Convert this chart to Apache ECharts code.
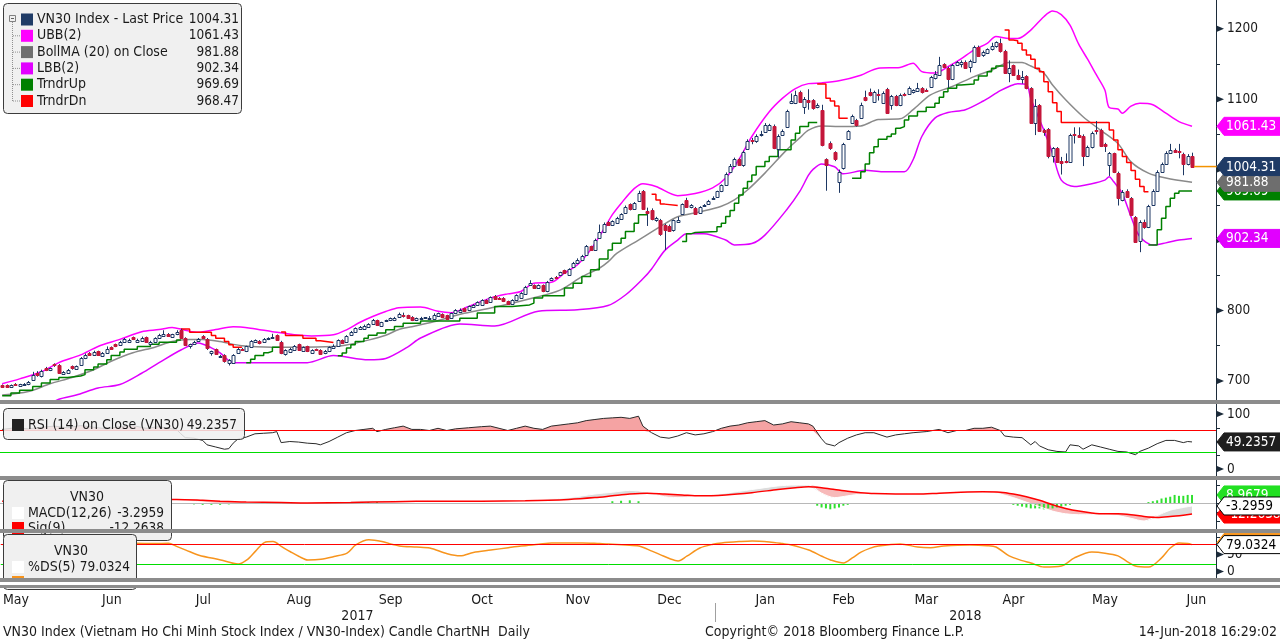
<!DOCTYPE html>
<html><head><meta charset="utf-8">
<script src="https://cdn.jsdelivr.net/npm/echarts@6/dist/echarts.min.js"></script>
<style>html,body{margin:0;padding:0;background:#fff;}#c{width:1280px;height:641px;}</style>
</head><body><div id="c"></div>
<script>
// ---------------- DATA ----------------
const holidays = ['2017-09-01','2017-09-04','2018-01-01','2018-02-14','2018-02-15','2018-02-16','2018-02-19','2018-02-20','2018-04-25','2018-04-30','2018-05-01'];
const firstDate = '2017-05-12';
const monthNames = ['Jan','Feb','Mar','Apr','May','Jun','Jul','Aug','Sep','Oct','Nov','Dec'];

const opens = [694,694,691,696,693,694,695,702,712,707,719,715,724,723,710,712,721,717,723,733,740,737,742,735,740,748,752,751,756,756,762,755,757,762,753,756,761,764,767,763,766,773,761,749,753,757,764,760,739,745,734,737,726,726,740,746,742,748,755,757,755,759,762,765,756,738,741,744,752,743,749,740,745,744,740,742,747,750,758,756,765,770,774,774,777,781,786,778,785,786,786,791,794,793,791,786,789,790.5,789.5,788,792,795,793,789,797,798,803,801,805,808,808,815,812,820,818,818,813,809,815,818,823,836,836,832,836,827,844,847.5,851,857,851,862,867,871,879,891,886,903,912,926,921,924,930,938,951,944,956,969,941.5,943,928,928,921,920,914,926,937,957,947,946,939,948,951,958,961,969,978,996,1005,1015,1006,1029,1042,1040,1050,1053,1056,1062,1029,1049,1061,1094,1094,1110,1088.5,1099,1099,1089,1084,1015,1038,1025,983,1002,1044,1066,1070,1073,1103,1110.6,1096.5,1108,1095,1114.5,1092,1104.5,1092,1107.6,1107.5,1110,1112,1115.5,1113.5,1117.7,1129.6,1134.3,1149.5,1144.7,1128.7,1149,1149.5,1153,1145,1153,1174.5,1162,1165,1170.8,1175,1179,1168.8,1137.6,1148.5,1134.3,1129,1132.6,1115.5,1065.8,1091.8,1056,1057,1018.6,1030.3,1012,1012,1011.3,1050,1049,1047.8,1019.6,1032,1056,1056,1036,1006.7,1023,995.7,957,970,959.4,932.5,898,926.2,918.3,950,970,997,1008,1024,1028,1027,1022,1008,1019.6];
const highs = [695,695,695,697,696,697,700,713,714,716,720,719,725,724,714,717,722,722,734,739,741,743,743,741,749,749,753,757,761,760,763,760,763,763,757,762,767,772,768,767,772,774,762,753,757,761,765,761,743,746,737,738,731,738,747,747,750,758,759,758,761,762,767,766,757,745,747,751,753,749,750,745,746,745,744,749,752,759,759,765,771,776,778,780,782,788,787,784,787,790,791,797,797,794,792,790,791,790.5,792,796,797,796,794,797,802,803,804,807,809,813,816,816,820,822,819,819,814,816,823,826,835,843,837,837,837,842,847,849,855,858,860,869,874,879,893,892,902,922,925,927,928,933,938,949,952,954,970,971,946,945,933,930,923,922,929,933,952,960,951,947,948,951,957,962,970,979,996,1008,1017,1016,1027,1043,1045,1050,1055,1066,1065,1064,1050,1057,1085,1108,1112,1112,1103,1114,1100,1094,1092,1016,1040,1026,1000,1038,1056,1078,1072,1095,1112,1115,1112,1114,1111,1116,1106,1106,1108,1109,1118,1114,1123,1117,1115,1133,1140,1160,1151,1146,1150,1154,1155,1155,1156,1176,1176,1169,1172,1180,1182,1186,1170,1155,1149,1142,1140,1134,1117,1100,1093,1058,1059,1032,1032,1018,1023,1051,1060,1060,1050,1034,1054,1069,1058,1038,1025,1024,997,971,972,961,934,928,929,950,972,999,1010,1026,1036.5,1030,1036.5,1024,1022,1024];
const lows = [690,691,690,693,692,693,694,700,706,705,714,714,720,710,709,711,716,716,722,731,736,736,736,734,739,745,748,750,755,755,758,754,756,754,751,755,760,763,763,762,765,760,750,746,752,756,760,744,736,737,733,726,722,725,739,743,741,747,754,752,754,758,761,757,738,736,740,743,743,742,741,739,743,737,738,741,746,749,753,755,764,769,773,773,776,780,778,777,784,785,785,790,790,789,785,785,788,788,789.5,787,791,790,787,788,796,797,799,800,804,807,807,810,811,815,816,812,808,808,814,817,822,835,831,831,826,826,843,845,850,852,850,861,866,870,878,885,885,902,911,920,920,923,929,937,942,943,955,943,920,928,926,906,886,912,912,925,936,946,945,936,938,947,950,957,960,968,977,995,1004,1006,1004,1028,1036,1038,1047,1052,1055,1029,1017,1048,1060,1093,1093,1095,1079,1085,1085,1087,1033,970,1028,1012,967,1000,1043,1065,1061,1072,1097,1104,1095,1098,1094,1080,1085,1090,1090,1104,1106,1108,1111,1108,1111,1116,1128,1133,1144,1116,1127,1147,1145,1143,1138,1152,1160,1160,1164,1169,1173,1166,1136,1124,1133,1127,1122,1114,1065,1049,1054,1048,1016,1010,1010,993,1009,1010,1037,1045,1005,1018,1030,1050,1032,1025,991,995,949,955,960,934,896,882.8,916,917,949,969,996,1007,1023,1024,1016,992,1006,1003];
const closes = [692,692,694,694,695,696,699,709,708,714,716,718,722,711,713,716,718,721,733,737,737,741,737,739,746,746,750,756,759,758.5,760,758,761,755,756,761,765,767,764,766,770,761,751,752,756,760,761,747,742,738,736,728,730,737,745,744,749,757,758,754,760,761,763,758,740,744,746,750,744,748,742,744,744,738,743,748,750,758,754,764,770,775,777,778,781,786,779,783,786,789,789,795,792,790,786,789,789.5,790.5,789.5,794,796,791,788,796,801,801,800,806,808,812,815,811,819,816,817.5,813,809.5,815,822,825,834,839,832,836,827,840,846,846.5,854,853,859,868,872,878,891,886,900,912,923,922,927,932,937,947.5,944,953,967,944,939,930,931,908,914.5,913.5,928,929,951,947.5,950,937,947.5,950,956,960,969,978,994,1005,1015,1007,1025,1041,1040,1048,1051,1063,1063,1030,1048,1055,1083,1097.5,1106,1096.5,1100,1096.5,1087,1092,1035,1007,1031,1015,997,1036.5,1055,1076,1063,1092,1099,1106,1110.6,1107,1109,1081,1104.5,1092,1106,1106.5,1115.5,1113,1115.5,1110,1112.5,1131,1135.7,1148.5,1146,1128.7,1148.5,1152,1153,1144.7,1154.6,1174.5,1161.7,1167.4,1170.8,1176,1180.7,1168.8,1137.6,1143.8,1134.3,1128.7,1131,1115.5,1066.7,1090.4,1055.3,1054,1018.6,1030.3,1011.3,1010,1011.3,1049.2,1049,1046.8,1019.6,1032.6,1052.6,1055,1033.6,1034,1023,997,959.4,968.8,961.7,935.7,897.9,926.2,918.3,948.5,970,997,1008,1024,1028,1025.5,1026,1008,1019.6,1004.31];

// Bollinger bands: [day index, value]
const ubb = [[0,696],[4,703],[9,713],[13,726],[18,737],[22,749],[27,759],[32,770],[36,773],[39,776],[42,772],[45,769],[49,773],[53,777],[57,775],[62,770],[67,765.5],[71,764],[76,765.5],[79,772.6],[82,783],[85,791.5],[88,798.6],[91,804],[96,805],[100,799],[103,797],[107,805.7],[112,817.6],[116,823.6],[119,827],[122,838.8],[126,840],[129,853],[132,865],[135,886],[138,915],[140,936],[142,952],[145,973],[147,980],[150,976],[155,963],[159,966],[163,974],[166,988],[169,1014],[172,1047],[176,1082],[179,1101],[182,1115],[185,1122],[188,1123],[192,1126],[197,1134],[201,1144],[206,1145],[209,1151],[211,1139],[214,1137],[217,1146],[220,1157],[223,1170],[226,1179],[228,1189],[231,1186],[233,1186],[236,1198],[239,1217],[241,1225],[243,1220],[245,1205],[247,1178],[249,1157],[251,1135],[253,1113],[254,1088],[256,1086],[257,1080],[259,1090],[261,1094],[264,1092],[267,1080],[270,1068],[273,1061.43]];
const bollMA = [[0,680],[6,685],[11,696],[16,705],[21,716],[25,728],[30,740],[35,748],[39,756],[43,759],[46,759],[50,756],[55,750],[62,748],[68,748],[76,749],[79,751],[84,758],[88,765],[91,773],[94,777],[99,784],[106,796],[114,806],[122,818],[128,829],[133,848],[137,860],[139,869],[141,881],[146,900],[151,919],[155,933],[160,940],[165,948],[168,957],[171,971],[175,995],[180,1028],[183,1045],[185,1056],[188,1062],[192,1061],[197,1062],[201,1071],[206,1072],[209,1085],[213,1106],[218,1118],[223,1132],[227,1141],[231,1152],[234,1152],[236,1147],[239,1137],[241,1120],[244,1099],[248,1075],[252,1056],[256,1037],[259,1011],[263,995],[267,988],[273,981.88]];
const lbb = [[0,640],[6,652],[10,664],[13,674],[17,680],[22,690],[27,695],[32,711],[36,726],[41,744],[45,754],[48,747],[50,740],[53,726],[60,726],[70,726],[76,736],[84,730],[88,732],[93,748],[96,761],[105,781],[113,778],[123,799],[132,801],[139,807],[143,822],[147,845],[149,859],[152,885],[155,900],[157,909],[161,909],[166,900],[168,893],[172,895],[175,907],[180,943],[183,969],[185,992],[186,1000],[188,1008],[191,1004],[193,994],[198,999],[202,997],[207,997],[209,1014],[211,1047],[214,1073],[217,1081],[221,1085],[225,1097],[229,1112],[231,1118],[233,1122],[235,1121],[236,1101],[239,1056],[241,1023],[243,985],[246,976],[250,980],[253,985],[254,990],[255,983],[257,966],[259,933],[261,905],[264,893],[267,896],[270,900],[273,902.34]];

// Trend stops (step lines), one list per visible stretch
const trendUpSegs = [
  [[0,679],[2,683],[4,687],[7,692],[9,697],[11,702],[13,705],[15,707],[18,709],[19,716],[21,720],[22,724],[24,730],[25,736],[27,741],[28,745],[31,749],[34,752],[36,755],[40,758],[41,758]],
  [[56,726],[57,731],[58,736],[60,740],[61,742],[62,748],[64,748]],
  [[77,735.7],[78,739.6],[79,746.7],[80,751.4],[81,756],[83,760.8],[84,765],[86,768],[88,772.6],[90,777.3],[92,782],[96,785],[105,789],[109,796.3],[113,805.7],[117,808],[121,810.5],[122,817.6],[124,820.8],[129,831.8],[131,838.8],[133,848.2],[135,857.7],[137,873],[139,886],[140,895.5],[142,902.6],[143,912],[145,924],[146,935.8],[148,935.8]],
  [[156,898],[157,908.8],[158,910.6],[159,912],[164,919],[165,924],[166,933.3],[167,941.8],[168,952.3],[169,964],[170,973.6],[171,983],[172,992.5],[173,1004.3],[175,1011.4],[176,1018.6],[178,1028],[181,1042],[182,1051.6],[183,1061],[185,1066.7],[187,1066.7]],
  [[195,987.8],[197,997],[198,1008],[199,1024],[200,1032.6],[201,1043],[203,1046.8],[204,1050.6],[205,1058.7],[206,1061],[207,1070.5],[208,1076],[210,1082.3],[212,1088.5],[214,1094],[215,1102.7],[216,1110.6],[217,1115.5],[219,1120],[220,1121.6],[223,1127.2],[224,1133],[226,1139],[227,1143.8],[228,1147],[230,1150.9]],
  [[263,893],[265,914.5],[266,931],[267,947.5],[268,959.4],[269,966.5],[270,969.69],[273,969.69]]
];
const trendDnSegs = [
  [[41,773.6],[43,769],[48,764.6],[49,760.8],[51,756],[52,751.4],[53,748],[55,748]],
  [[64,769.4],[65,764.6],[69,760.8],[72,757],[73,754.6],[76,754.6]],
  [[149,965],[150,957],[151,951],[152,949],[155,949]],
  [[187,1121.6],[189,1101.3],[190,1097.5],[191,1090.4],[192,1073],[194,1073]],
  [[230,1198],[231,1184],[232,1183],[233,1179.3],[234,1169.8],[235,1162.7],[236,1156.6],[237,1143.8],[238,1139],[239,1124.8],[240,1110.6],[241,1095],[242,1082.3],[243,1066.7],[254,1056.3],[255,1042],[256,1028],[257,1018.6],[258,1010],[259,998.6],[260,986.4],[261,976],[262,968.47],[263,968.47]]
];

// RSI(14)
const rsi = [[0,72],[3,75],[6,73],[9,76],[12,78],[15,75],[18,79],[21,76],[24,73],[27,77],[30,79],[33,74],[36,77],[38,74],[40,72],[41,64],[42,57],[44,56],[46,52],[47,44],[49,40],[51,36],[52,37],[53,47],[54,54],[56,58],[58,64],[60,65],[62,66],[63,68],[64,48],[66,50],[68,49],[70,47],[72,46],[73,44],[75,50],[77,58],[79,66],[81,70],[83,72],[85,74],[86,68],[88,72],[90,75],[92,78],[94,72],[96,72],[98,70],[100,74],[102,70],[104,73],[107,75],[110,77],[112,78],[114,74],[116,70],[118,74],[120,78],[122,74],[124,72],[126,78],[128,80],[130,82],[132,84],[134,88],[136,90],[138,92],[140,93],[142,94],[144,92],[146,96],[147,78],[149,66],[151,58],[153,56],[155,60],[157,66],[159,62],[161,64],[163,68],[165,74],[167,78],[169,80],[171,84],[173,86],[175,88],[177,80],[179,82],[181,86],[183,84],[185,82],[186,78],[188,55],[189,46],[191,42],[192,48],[194,56],[196,62],[198,66],[200,66],[203,58],[205,62],[207,64],[209,66],[212,68],[215,72],[217,66],[219,70],[221,70],[223,74],[225,74],[227,76],[229,70],[230,60],[232,58],[234,57],[236,44],[237,50],[238,42],[240,35],[242,32],[244,31],[245,44],[247,42],[248,36],[250,44],[252,40],[254,36],[256,32],[258,31],[260,26],[261,32],[263,38],[265,46],[267,52],[269,52],[271,48],[272,50],[273,49.2357]];

// MACD(12,26) and Sig(9)
const macdIdx = [0,10,20,30,40,46,50,56,64,70,80,90,100,110,120,130,136,140,144,148,152,156,160,166,172,178,182,185,188,191,194,197,200,205,210,215,220,225,229,232,235,238,241,244,247,250,253,256,259,262,265,268,271,273];
const macdLine = [3,3.5,4,4,3.5,1,-0.5,0,1,-0.5,2,3,2.5,2,3,6,10,12,14,12,7,6,8,11,15,19,20,20,11,6,8,10,11,10,11,12,13,13,10,6,1,-4,-9,-12,-13,-13,-13,-14,-17,-20,-14,-8,-5,-3.2959];
const sigLine = [2,2.5,3,3.5,4,3,2,1,0.5,0,0.5,1.5,2,2,2.5,4,6,8,10,11,10,9,8,9,11.5,15,17,18,17,15,13,11.5,10.5,10,10,11,12,12.5,12,10,7,3,-2,-6,-9,-11,-12,-12,-13,-15,-16,-15,-13.5,-12.2638];
const macdHist = [[42,-1],[44,-1.5],[46,-2],[48,-2],[50,-2],[52,-1.5],[54,-1],[82,1],[84,1],[86,1],[140,2],[142,2.5],[144,3],[146,2],[186,-1],[187,-3],[188,-5],[189,-6],[190,-7],[191,-6],[192,-5],[193,-3],[194,-2],[195,-1],[231,-1],[232,-2],[233,-3],[234,-4],[235,-5],[236,-6],[237,-6],[238,-6],[239,-7],[240,-6],[241,-6],[242,-5],[243,-4],[244,-3],[245,-2],[263,1],[264,2],[265,3],[266,5],[267,6],[268,7],[269,9],[270,8],[271,8],[272,9],[273,8.9679]];

// %DS(5)
const dsLine = [[0,76],[5,78],[10,80],[15,79],[20,82],[25,80],[30,83],[35,82],[38,83],[40,73],[42,63],[45,48],[50,34],[54,22],[56,34],[58,60],[60,85],[62,88],[64,73],[66,58],[68,44],[70,34],[73,36],[76,44],[79,54],[81,78],[84,93],[87,88],[91,75],[95,72],[98,69],[102,52],[105,46],[108,56],[112,63],[116,70],[119,75],[123,80],[126,84],[130,84],[133,84],[137,82],[139,81],[143,78],[146,75],[149,60],[151,49],[153,38],[155,31],[157,45],[160,69],[163,80],[165,84],[169,88],[172,90],[176,87],[179,82],[181,78],[185,63],[188,45],[190,34],[193,25],[195,40],[197,57],[199,68],[201,75],[206,81],[210,72],[213,70],[216,75],[222,78],[226,76],[228,72],[231,46],[234,32],[236,25],[239,13],[243,16],[246,40],[250,57],[253,54],[256,46],[258,30],[260,16],[263,13],[266,40],[268,69],[270,84],[272,82],[273,79.0324]];

const priceTicks = [700,800,900,1000,1100,1200];

// ---------------- BUILD ----------------
const FONT = '"DejaVu Sans Condensed","Liberation Sans Narrow","Liberation Sans",sans-serif';
const TXT = '#1a1a1a', NAVY = '#1d3763', CRIMSON = '#c4173b', AXIS = '#1c2b3a';
const N_CAT = 279;
const NUM = 13;

function ymd(d){return d.getFullYear()+'-'+String(d.getMonth()+1).padStart(2,'0')+'-'+String(d.getDate()).padStart(2,'0');}
const hol = new Set(holidays);
const fullCal = [];
for (let d = new Date(2017,4,3); d <= new Date(2018,5,29); d.setDate(d.getDate()+1)) {
  const wd = d.getDay(); const s = ymd(d);
  if (wd !== 0 && wd !== 6 && !hol.has(s)) fullCal.push(s);
}
const off = fullCal.indexOf(firstDate);
const dates = fullCal.slice(off, off + N_CAT);
const mFirst = {}, mLast = {};
fullCal.forEach((s, k) => { const m = s.slice(0,7); const i = k - off; if (!(m in mFirst)) mFirst[m] = i; mLast[m] = i; });
const labelIdx = new Set();
Object.keys(mFirst).forEach(m => { const c = Math.round((mFirst[m] + mLast[m]) / 2); if (c >= 0 && c < N_CAT) labelIdx.add(c); });

const candleData = closes.map((c, i) => [i, opens[i], c, lows[i], highs[i]]);

function renderCandle(params, api) {
  const i = api.value(0), o = api.value(1), c = api.value(2), l = api.value(3), h = api.value(4);
  const pO = api.coord([i, o]), pC = api.coord([i, c]), pL = api.coord([i, l]), pH = api.coord([i, h]);
  const x = Math.round(pO[0]) + 0.5;
  const up = c >= o;
  const top = Math.round(Math.min(pO[1], pC[1])) + 0.5, bot = Math.round(Math.max(pO[1], pC[1])) + 0.5;
  return { type: 'group', children: [
    { type: 'line', shape: { x1: x, y1: pH[1], x2: x, y2: pL[1] }, style: { stroke: NAVY, lineWidth: 1 } },
    { type: 'rect', shape: { x: x - 1.5, y: top, width: 3, height: Math.max(1, bot - top) },
      style: up ? { fill: '#fff', stroke: NAVY, lineWidth: 1 } : { fill: CRIMSON, stroke: CRIMSON, lineWidth: 1 } }
  ]};
}

const grids = [
  { left: 0, top: 0, width: 1216, height: 400 },
  { left: 0, top: 404, width: 1216, height: 72 },
  { left: 0, top: 480, width: 1216, height: 49 },
  { left: 0, top: 533, width: 1216, height: 45 }
];
const xAxes = grids.map((g, k) => ({
  type: 'category', gridIndex: k, data: dates, boundaryGap: true,
  axisLine: { show: false }, axisTick: { show: false },
  axisLabel: k === 3 ? {
    show: true, margin: 15, color: TXT, fontSize: 14, fontFamily: FONT,
    interval: (idx) => labelIdx.has(idx),
    formatter: (v) => monthNames[parseInt(v.slice(5,7), 10) - 1]
  } : { show: false },
  splitLine: { show: false }
}));
function yAx(k, min, max, tickVals, labelVals) {
  return { type: 'value', gridIndex: k, position: 'right', min, max, scale: true,
    axisLine: { show: true, lineStyle: { color: AXIS, width: 1 } },
    axisTick: { show: true, length: 4, lineStyle: { color: AXIS }, customValues: tickVals },
    axisLabel: { show: labelVals.length > 0, margin: 11, color: TXT, fontSize: 13.5, fontFamily: FONT, customValues: labelVals,
      formatter: (v) => String(v) },
    splitLine: { show: false } };
}
const yAxes = [
  yAx(0, 673, 1240.7, [700,750,800,850,900,950,1000,1050,1100,1150,1200], priceTicks),
  yAx(1, -12.7, 118.2, [0,25,50,75,100], [0,50,100]),
  yAx(2, -28.9, 25.6, [-20,-10,0,10,20], []),
  yAx(3, -19.1, 113.2, [0,50,100], [0,50])
];

const noSym = { showSymbol: false, symbol: 'none', silent: true };
const series = [];
function line(k, data, color, width, extra) {
  series.push(Object.assign({ type: 'line', xAxisIndex: k, yAxisIndex: k, data, lineStyle: { color, width }, itemStyle: { color } }, noSym, extra || {}));
}
// main panel
line(0, ubb, '#ff00ff', 1.5, { smooth: 0.3 });
line(0, lbb, '#e000ff', 1.5, { smooth: 0.3 });
line(0, bollMA, '#8a8a8a', 1.5, { smooth: 0.3 });
trendUpSegs.forEach(s => line(0, s, '#008000', 1.5, { step: 'end' }));
trendDnSegs.forEach(s => line(0, s, '#ff0000', 1.5, { step: 'end' }));
series.push({ type: 'custom', xAxisIndex: 0, yAxisIndex: 0, data: candleData, renderItem: renderCandle,
  encode: { x: 0, y: [1,2,3,4] }, clip: true, silent: true, z: 5 });

// RSI panel
const rsiHiBase = rsi.map(p => [p[0], Math.min(p[1], 70)]);
const rsiHiEx = rsi.map(p => [p[0], Math.max(p[1] - 70, 0)]);
const rsiLoBase = rsi.map(p => [p[0], Math.min(p[1], 30)]);
const rsiLoEx = rsi.map(p => [p[0], 30 - Math.min(p[1], 30)]);
line(1, rsiHiBase, 'rgba(0,0,0,0)', 0, { stack: 'hi' });
line(1, rsiHiEx, 'rgba(0,0,0,0)', 0, { stack: 'hi', areaStyle: { color: '#f5a3a3', opacity: 1 } });
line(1, rsiLoBase, 'rgba(0,0,0,0)', 0, { stack: 'lo' });
line(1, rsiLoEx, 'rgba(0,0,0,0)', 0, { stack: 'lo', areaStyle: { color: '#b8f0b8', opacity: 1 } });
line(1, rsi, '#2a2a2a', 1, { z: 4, markLine: { silent: true, symbol: 'none', label: { show: false },
  data: [{ yAxis: 70, lineStyle: { color: '#ff0000', width: 1, type: 'solid' } }, { yAxis: 30, lineStyle: { color: '#00dd00', width: 1, type: 'solid' } }] } });

// MACD panel
const mBase = macdIdx.map((x, j) => [x, Math.min(macdLine[j], sigLine[j])]);
const mPos = macdIdx.map((x, j) => [x, Math.max(macdLine[j] - sigLine[j], 0)]);
const mNeg = macdIdx.map((x, j) => [x, Math.max(sigLine[j] - macdLine[j], 0)]);
line(2, mBase, 'rgba(0,0,0,0)', 0, { stack: 'm', stackStrategy: 'all', smooth: 0.3 });
line(2, mPos, 'rgba(0,0,0,0)', 0, { stack: 'm', stackStrategy: 'all', smooth: 0.3, areaStyle: { color: '#dcdcdc', opacity: 1 } });
line(2, mNeg, 'rgba(0,0,0,0)', 0, { stack: 'm', stackStrategy: 'all', smooth: 0.3, areaStyle: { color: '#f7b9b9', opacity: 1 } });
series.push({ type: 'bar', xAxisIndex: 2, yAxisIndex: 2, data: macdHist, barWidth: 2, itemStyle: { color: '#2fe02f' }, silent: true, z: 3 });
line(2, macdIdx.map((x, j) => [x, macdLine[j]]), '#ffffff', 1, { smooth: 0.3, z: 4 });
line(2, macdIdx.map((x, j) => [x, sigLine[j]]), '#ff0000', 1.5, { smooth: 0.3, z: 5, markLine: { silent: true, symbol: 'none', label: { show: false },
  data: [{ yAxis: 0, lineStyle: { color: '#b8b8b8', width: 1, type: 'solid' } }] } });

// %DS panel
line(3, dsLine, '#f7941d', 1.5, { smooth: 0.3, z: 4, markLine: { silent: true, symbol: 'none', label: { show: false },
  data: [{ yAxis: 80, lineStyle: { color: '#ff0000', width: 1, type: 'solid' } }, { yAxis: 20, lineStyle: { color: '#00dd00', width: 1, type: 'solid' } }] } });

const chart = echarts.init(document.getElementById('c'), null, { renderer: 'canvas', width: 1280, height: 641 });
chart.setOption({ animation: false, backgroundColor: '#ffffff', grid: grids, xAxis: xAxes, yAxis: yAxes, series });

// ---------------- OVERLAYS (legends, tags, separators) ----------------
const g = [];
let zc = 100;
const X = (i) => chart.convertToPixel({ xAxisIndex: 0 }, i);
const Y = (k, v) => chart.convertToPixel({ yAxisIndex: k }, v);
const last = (arr) => arr[arr.length - 1][1];
function txt(x, y, s, opt) {
  g.push({ type: 'text', x, y, z: zc++, silent: true, style: Object.assign({ text: s, fill: TXT, fontSize: 14, fontFamily: FONT, align: 'left', verticalAlign: 'middle' }, opt || {}) });
}
function rect(x, y, w, h, style, r) {
  g.push({ type: 'rect', z: zc++, silent: true, shape: { x, y, width: w, height: h, r: r || 0 }, style });
}
function tag(y, bg, s, fg, stroke) {
  g.push({ type: 'polygon', z: zc++, silent: true, shape: { points: [[1217, y], [1224, y - 9], [1290, y - 9], [1290, y + 9], [1224, y + 9]] }, style: { fill: bg, stroke: stroke || bg, lineWidth: 1 } });
  txt(1226, y + 0.5, s, { fill: fg, fontSize: NUM + 0.5 });
}
function tri(y) {
  g.push({ type: 'polygon', z: zc++, silent: true, shape: { points: [[1217, y - 3], [1224, y], [1217, y + 3]] }, style: { fill: AXIS } });
}
priceTicks.forEach(v => tri(Y(0, v)));
[0, 100].forEach(v => tri(Y(1, v)));
[0, 50].forEach(v => tri(Y(3, v)));

// last price guide line
g.push({ type: 'line', z: zc++, silent: true, shape: { x1: X(closes.length - 1) + 2, y1: Y(0, closes[closes.length - 1]), x2: 1217, y2: Y(0, closes[closes.length - 1]) }, style: { stroke: '#f39200', lineWidth: 1.5 } });

// main legend
rect(3.5, 3.5, 238, 110, { fill: '#f0f0f0', stroke: '#3c3c3c', lineWidth: 1 }, 4);
const legRows = [
  ['VN30 Index - Last Price', closes[closes.length - 1], '#1f3b66'],
  ['UBB(2)', last(ubb), '#ff00ff'],
  ['BollMA (20) on Close', last(bollMA), '#6e6e6e'],
  ['LBB(2)', last(lbb), '#e100ff'],
  ['TrndrUp', last(trendUpSegs[trendUpSegs.length - 1]), '#008000'],
  ['TrndrDn', last(trendDnSegs[trendDnSegs.length - 1]), '#ff0000']
];
rect(9.5, 15.5, 6, 6, { fill: '#f0f0f0', stroke: '#808080', lineWidth: 1 });
g.push({ type: 'line', z: zc++, silent: true, shape: { x1: 11, y1: 18.5, x2: 14, y2: 18.5 }, style: { stroke: '#606060', lineWidth: 1 } });
g.push({ type: 'line', z: zc++, silent: true, shape: { x1: 12.5, y1: 22, x2: 12.5, y2: 101 }, style: { stroke: '#909090', lineWidth: 1, lineDash: [1, 1] } });
legRows.forEach((r, j) => {
  const cy = 19.5 + j * 16.3;
  if (j > 0) g.push({ type: 'line', z: zc++, silent: true, shape: { x1: 13, y1: cy, x2: 20, y2: cy }, style: { stroke: '#909090', lineWidth: 1, lineDash: [1, 1] } });
  rect(21, cy - 6, 12, 12, { fill: r[2] });
  txt(37, cy, r[0]);
  txt(239, cy, Number(r[1]).toFixed(2), { align: 'right', fontSize: NUM + 0.5 });
});

// RSI legend
rect(3.5, 408.5, 241, 31, { fill: 'rgba(240,240,240,0.85)', stroke: '#3c3c3c', lineWidth: 1 }, 4);
rect(12, 419, 12, 12, { fill: '#222222' });
txt(28, 425, 'RSI (14) on Close (VN30)');
txt(237, 425, last(rsi).toFixed(4), { align: 'right', fontSize: NUM + 0.5 });

// MACD legend
rect(3.5, 480.5, 168, 60, { fill: '#f0f0f0', stroke: '#3c3c3c', lineWidth: 1 }, 4);
txt(87, 497, 'VN30', { align: 'center' });
rect(12, 507, 12, 12, { fill: '#ffffff' });
txt(28, 513, 'MACD(12,26)');
txt(164, 513, macdLine[macdLine.length - 1].toFixed(4), { align: 'right', fontSize: NUM + 0.5 });
rect(12, 522, 12, 12, { fill: '#ff0000' });
txt(28, 528, 'Sig(9)');
txt(164, 528, sigLine[sigLine.length - 1].toFixed(4), { align: 'right', fontSize: NUM + 0.5 });

// %DS legend
rect(3.5, 534.5, 133, 55, { fill: '#f0f0f0', stroke: '#3c3c3c', lineWidth: 1 }, 4);
txt(71, 551, 'VN30', { align: 'center' });
rect(12, 561, 12, 12, { fill: '#ffffff' });
txt(28, 567, '%DS(5)');
txt(130, 567, last(dsLine).toFixed(4), { align: 'right', fontSize: NUM + 0.5 });
rect(12, 576, 12, 12, { fill: '#f7941d' });

// value tags on the right
tag(Y(0, last(lbb)), '#e100ff', last(lbb).toFixed(2), '#ffffff');
tag(Y(0, last(ubb)), '#ff00ff', last(ubb).toFixed(2), '#ffffff');
tag(Y(0, last(trendUpSegs[trendUpSegs.length - 1])), '#008000', last(trendUpSegs[trendUpSegs.length - 1]).toFixed(2), '#ffffff');
tag(Y(0, last(bollMA)), '#6e6e6e', last(bollMA).toFixed(2), '#ffffff');
tag(Y(0, closes[closes.length - 1]), '#1f3b66', closes[closes.length - 1].toFixed(2), '#ffffff');
tag(Y(1, last(rsi)), '#1e1e1e', last(rsi).toFixed(4), '#ffffff');
tag(Y(2, last(macdHist)), '#22e022', last(macdHist).toFixed(4), '#ffffff');
tag(Y(2, sigLine[sigLine.length - 1]), '#ff0000', sigLine[sigLine.length - 1].toFixed(4), '#ffffff');
tag(Y(2, macdLine[macdLine.length - 1]), '#ffffff', macdLine[macdLine.length - 1].toFixed(4), '#000000', '#000000');
tag(Y(3, 85), '#f7941d', '', '#ffffff');
tag(Y(3, last(dsLine)), '#ffffff', last(dsLine).toFixed(4), '#000000', '#000000');

// panel separators
[[400, 4], [476, 4], [529, 4], [578, 4], [585, 3]].forEach(s => rect(0, s[0], 1280, s[1], { fill: '#8c8c8c' }));
rect(0, 582, 1280, 3, { fill: '#ffffff' });

// years + divider
const x2017 = (X(0) + X(163)) / 2, x2018 = (X(164) + X(N_CAT - 1)) / 2, xDiv = (X(163) + X(164)) / 2;
txt(x2017, 616, '2017', { align: 'center' });
txt(x2018, 616, '2018', { align: 'center' });
g.push({ type: 'line', z: zc++, silent: true, shape: { x1: Math.round(xDiv) + 0.5, y1: 603, x2: Math.round(xDiv) + 0.5, y2: 622 }, style: { stroke: '#a0a0a0', lineWidth: 1 } });

// footer
txt(3, 632, 'VN30 Index (Vietnam Ho Chi Minh Stock Index / VN30-Index) Candle ChartNH  Daily');
txt(705, 632, 'Copyright\u00a9 2018 Bloomberg Finance L.P.');
txt(1277, 632, '14-Jun-2018 16:29:02', { align: 'right' });

chart.setOption({ graphic: { elements: g } });
</script>
</body></html>
